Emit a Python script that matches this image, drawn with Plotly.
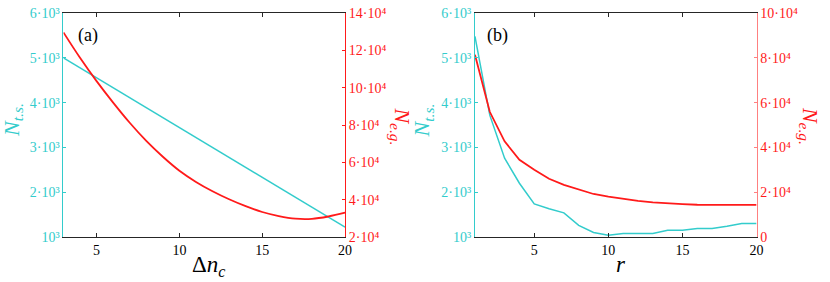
import plotly.graph_objects as go

# ---- data ----
dnc = [3, 4, 5, 6, 7, 8, 9, 10, 11, 12, 13, 14, 15, 16, 17, 18, 19, 20]
nts_a = [5000, 4778, 4555, 4333, 4110, 3888, 3665, 3443, 3220, 2998,
         2775, 2553, 2330, 2108, 1885, 1663, 1440, 1218]
neg_a = [129600, 116000, 103500, 92000, 81200, 71500, 63000, 55500, 49500, 44500,
         40200, 36500, 33400, 31200, 29800, 29700, 31000, 33000]

r = [1, 2, 3, 4, 5, 6, 7, 8, 9, 10, 11, 12, 13, 14, 15, 16, 17, 18, 19, 20]
nts_b = [5480, 3720, 2760, 2200, 1740, 1630, 1540, 1260, 1100, 1040,
         1080, 1080, 1080, 1150, 1150, 1190, 1190, 1240, 1300, 1300]
neg_b = [81400, 55900, 42700, 34500, 30000, 26000, 23300, 21100, 19200, 18000,
         17000, 16100, 15500, 15000, 14700, 14400, 14300, 14300, 14300, 14300]

left_ticks = [1000, 2000, 3000, 4000, 5000, 6000]
left_text = ["10³", "2·10³", "3·10³", "4·10³", "5·10³", "6·10³"]
right_ticks_a = [20000, 40000, 60000, 80000, 100000, 120000, 140000]
right_text_a = ["2·10⁴", "4·10⁴", "6·10⁴", "8·10⁴", "10·10⁴", "12·10⁴", "14·10⁴"]
right_ticks_b = [0, 20000, 40000, 60000, 80000, 100000]
right_text_b = ["0", "2·10⁴", "4·10⁴", "6·10⁴", "8·10⁴", "10·10⁴"]
x_ticks = [5, 10, 15, 20]

CYAN = "#33CCCC"
RED = "#FF1A1A"
AXC = "#262626"
FONT = "Liberation Serif, Times New Roman, DejaVu Serif, serif"
W, H = 830, 282
L, R, T, B = 0, 0, 13, 45

fig = go.Figure()
fig.add_trace(go.Scatter(x=dnc, y=nts_a, mode="lines", line=dict(color=CYAN, width=1.5),
                         xaxis="x", yaxis="y", showlegend=False))
fig.add_trace(go.Scatter(x=dnc, y=neg_a, mode="lines", line=dict(color=RED, width=1.8, shape="spline"),
                         xaxis="x", yaxis="y2", showlegend=False))
fig.add_trace(go.Scatter(x=r, y=nts_b, mode="lines", line=dict(color=CYAN, width=1.5),
                         xaxis="x2", yaxis="y3", showlegend=False))
fig.add_trace(go.Scatter(x=r, y=neg_b, mode="lines", line=dict(color=RED, width=1.8),
                         xaxis="x2", yaxis="y4", showlegend=False))

dom_a = [64 / W, 348 / W]
dom_b = [479 / W, 763 / W]

xcommon = dict(showline=True, linecolor=AXC, linewidth=1, mirror="ticks", ticks="inside",
               ticklen=4, tickcolor=AXC, tickvals=x_ticks, showgrid=False, zeroline=False,
               tickfont=dict(family=FONT, size=14, color="black"))
ycommon = dict(showline=True, linewidth=1, ticks="inside", ticklen=3, showgrid=False,
               zeroline=False)

fig.update_layout(
    width=W, height=H, margin=dict(l=L, r=R, t=T, b=B),
    plot_bgcolor="white", paper_bgcolor="white",
    font=dict(family=FONT),
    xaxis=dict(domain=dom_a, range=[3, 20], anchor="y", **xcommon),
    xaxis2=dict(domain=dom_b, range=[1, 20], anchor="y3", **xcommon),
    yaxis=dict(domain=[0, 1], range=[1000, 6000], anchor="x", side="left",
               tickvals=left_ticks, ticktext=left_text, linecolor=CYAN, tickcolor=CYAN,
               tickfont=dict(family=FONT, size=14, color=CYAN), **ycommon),
    yaxis2=dict(range=[20000, 140000], overlaying="y", anchor="x", side="right",
                tickvals=right_ticks_a, ticktext=right_text_a, linecolor=RED, tickcolor=RED,
                tickfont=dict(family=FONT, size=14, color=RED), **ycommon),
    yaxis3=dict(domain=[0, 1], range=[1000, 6000], anchor="x2", side="left",
                tickvals=left_ticks, ticktext=left_text, linecolor=CYAN, tickcolor=CYAN,
                tickfont=dict(family=FONT, size=14, color=CYAN), **ycommon),
    yaxis4=dict(range=[0, 100000], overlaying="y3", anchor="x2", side="right",
                tickvals=right_ticks_b, ticktext=right_text_b, linecolor="#FF8080", tickcolor="#FF8080",
                tickfont=dict(family=FONT, size=14, color=RED), **ycommon),
)

def px_x(p):
    return (p - L) / (W - L - R)

def px_y(p):
    return (H - B - p) / (H - T - B)

ann = []
ann.append(dict(text="<i>N</i><sub><i>t.s.</i></sub>", x=px_x(13), y=px_y(120), textangle=-90,
                font=dict(family=FONT, size=22, color=CYAN)))
ann.append(dict(text="<i>N</i><sub><i>e.g.</i></sub>", x=px_x(404), y=px_y(126), textangle=90,
                font=dict(family=FONT, size=22, color=RED)))
ann.append(dict(text="<i>N</i><sub><i>t.s.</i></sub>", x=px_x(427), y=px_y(120), textangle=-90,
                font=dict(family=FONT, size=22, color=CYAN)))
ann.append(dict(text="<i>N</i><sub><i>e.g.</i></sub>", x=px_x(816), y=px_y(126), textangle=90,
                font=dict(family=FONT, size=22, color=RED)))
ann.append(dict(text="Δ<i>n</i><sub><i>c</i></sub>", x=px_x(210), y=px_y(266),
                font=dict(family=FONT, size=23, color="black")))
ann.append(dict(text="<i>r</i>", x=px_x(626), y=px_y(264),
                font=dict(family=FONT, size=23, color="black")))
ann.append(dict(text="(a)", x=px_x(89), y=px_y(35),
                font=dict(family=FONT, size=18, color="black")))
ann.append(dict(text="(b)", x=px_x(502), y=px_y(35),
                font=dict(family=FONT, size=18, color="black")))
for a in ann:
    a.update(xref="paper", yref="paper", showarrow=False, xanchor="center", yanchor="middle")
fig.update_layout(annotations=ann)

fig.write_html("out.html", config={"displayModeBar": False},
               post_script="document.body.style.margin='0px';document.body.style.overflow='hidden';")
